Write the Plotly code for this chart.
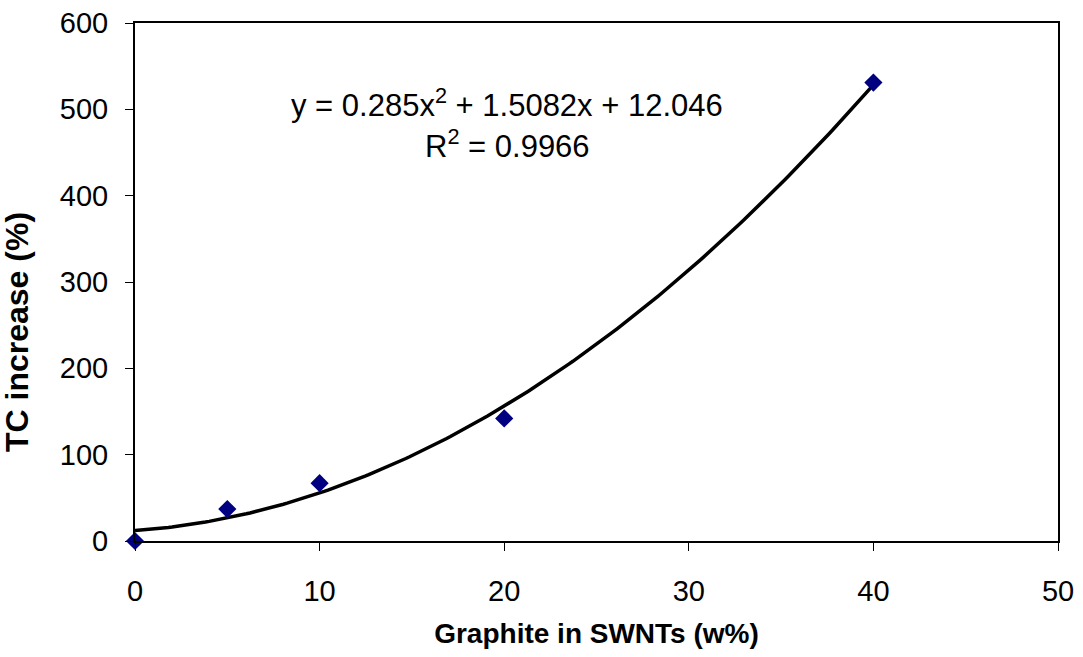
import numpy as np
import plotly.graph_objects as go

# Data
graphite_w = [0, 5, 10, 20, 40]
tc_increase = [0, 37, 67, 142, 531]

# Trendline coefficients shown on the chart (2nd order polynomial)
coef_a, coef_b, coef_c = 0.285, 1.5082, 12.046
r_squared = 0.9966
x_ticks = [0, 10, 20, 30, 40, 50]
y_ticks = [0, 100, 200, 300, 400, 500, 600]
x_title = "Graphite in SWNTs (w%)"
y_title = "TC increase (%)"

trend_x = np.linspace(min(graphite_w), max(graphite_w), 200)
trend_y = coef_a * trend_x**2 + coef_b * trend_x + coef_c

fig = go.Figure()
fig.add_trace(go.Scatter(x=trend_x, y=trend_y, mode="lines",
                         line=dict(color="black", width=3.5), showlegend=False,
                         hoverinfo="skip"))
fig.add_trace(go.Scatter(x=graphite_w, y=tc_increase, mode="markers",
                         marker=dict(symbol="diamond", size=14, color="#000080"),
                         showlegend=False, cliponaxis=False))

font_family = "Liberation Sans, Arial, sans-serif"
fig.update_layout(
    width=1083, height=657,
    margin=dict(l=135, r=25, t=23, b=116),
    plot_bgcolor="white", paper_bgcolor="white",
    font=dict(family=font_family, size=29, color="black"),
    xaxis=dict(range=[0, 50], tickvals=x_ticks, showgrid=False, zeroline=False,
               showline=True, linecolor="black", linewidth=2, mirror=True,
               ticks="outside", ticklen=8, tickcolor="black", tickwidth=1,
               tickfont=dict(size=29), ticklabelstandoff=15, automargin=False,
               title=dict(text=f"<b>{x_title}</b>",
                          font=dict(size=28), standoff=18)),
    yaxis=dict(range=[0, 600], tickvals=y_ticks, showgrid=False, zeroline=False,
               showline=True, linecolor="black", linewidth=2, mirror=True,
               ticks="outside", ticklen=8, tickcolor="black", tickwidth=1,
               tickfont=dict(size=29), ticklabelstandoff=11, automargin=False),
    annotations=[
        dict(x=-0.1278, y=0.4035, xref="paper", yref="paper", showarrow=False,
             text=f"<b>{y_title}</b>", textangle=-90,
             font=dict(size=32), xanchor="center", yanchor="middle"),
        dict(x=0.4025, y=0.846, xref="paper", yref="paper", showarrow=False,
             text=f"y = {coef_a}x<sup>2</sup> + {coef_b}x + {coef_c}",
             font=dict(size=31), xanchor="center", yanchor="middle"),
        dict(x=0.4035, y=0.766, xref="paper", yref="paper", showarrow=False,
             text=f"R<sup>2</sup> = {r_squared}",
             font=dict(size=31), xanchor="center", yanchor="middle"),
    ],
)

fig.write_html("out.html")
